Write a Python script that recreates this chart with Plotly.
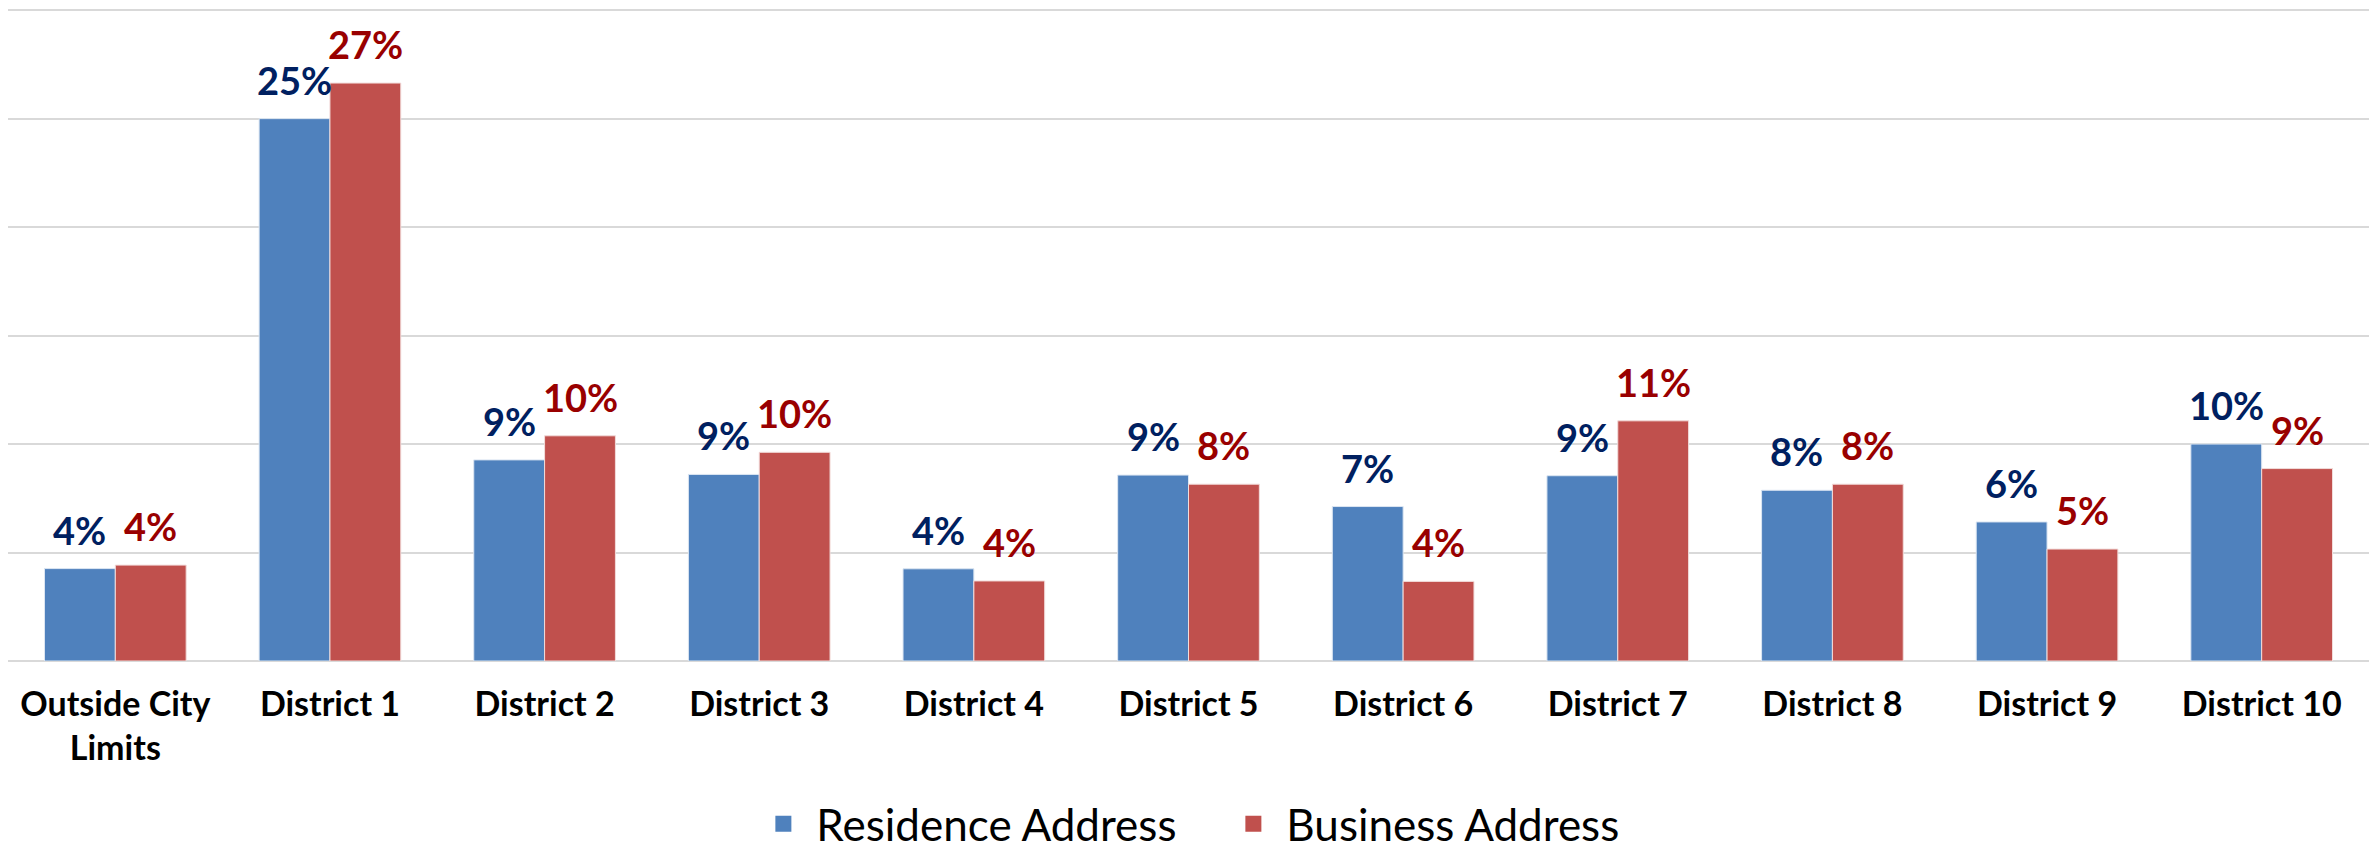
import plotly.graph_objects as go

categories = ["Outside City<br>Limits", "District 1", "District 2", "District 3", "District 4",
              "District 5", "District 6", "District 7", "District 8", "District 9", "District 10"]
residence = [4.26, 25.0, 9.27, 8.6, 4.25, 8.57, 7.12, 8.54, 7.87, 6.41, 10.0]
business = [4.42, 26.64, 10.38, 9.62, 3.69, 8.15, 3.67, 11.07, 8.15, 5.16, 8.87]
series_names = ["Residence Address", "Business Address"]

BLUE = "#4F81BD"
RED = "#C0504D"
BLUE_TXT = "#002060"
RED_TXT = "#990000"
FONT = "Lato"

fig = go.Figure()
fig.add_trace(go.Bar(name=series_names[0], x=categories, y=residence, showlegend=False,
                     marker=dict(color=BLUE, line=dict(color="#dce6f2", width=1))))
fig.add_trace(go.Bar(name=series_names[1], x=categories, y=business, showlegend=False,
                     marker=dict(color=RED, line=dict(color="#f2dcdb", width=1))))

# legend entries with bigger square swatches
for name, col in zip(series_names, (BLUE, RED)):
    fig.add_trace(go.Scatter(x=[None], y=[None], mode="markers", name=name,
                             marker=dict(symbol="square", size=22, color=col)))

# value labels sitting a bit above each bar
half = (1 - 0.34) / 4
annotations = []
for i in range(len(categories)):
    for vals, off, col in ((residence, -half, BLUE_TXT), (business, half, RED_TXT)):
        annotations.append(dict(
            x=i + off, y=vals[i], xref="x", yref="y",
            text=f"<b>{round(vals[i]):.0f}%</b>", showarrow=False,
            yanchor="bottom", xanchor="center", yshift=14,
            font=dict(family=FONT, size=38, color=col),
        ))

# page body adds an 8px margin, so the figure is sized to fit inside the window
fig.update_layout(
    width=2371, height=841,
    margin=dict(l=0, r=10, t=0, b=188, autoexpand=False),
    plot_bgcolor="white", paper_bgcolor="white",
    barmode="group", bargap=0.34, bargroupgap=0,
    font=dict(family=FONT, color="black"),
    annotations=annotations,
    legend=dict(orientation="h", x=0.5135, xanchor="center", y=-0.25, yanchor="middle",
                font=dict(family=FONT, size=44, color="black"),
                itemwidth=56, entrywidth=399, entrywidthmode="pixels", traceorder="normal"),
)
fig.update_xaxes(
    tickfont=dict(family=FONT, size=34, color="black", weight="bold"),
    ticks="outside", ticklen=13, tickcolor="rgba(0,0,0,0)",
    showline=False, showgrid=False, automargin=False,
)
fig.update_yaxes(
    range=[0, 30.1], tickvals=[0, 5, 10, 15, 20, 25, 30], showticklabels=False,
    showgrid=True, gridcolor="#d9d9d9", gridwidth=2, automargin=False,
    zeroline=True, zerolinecolor="#d9d9d9", zerolinewidth=2,
)

fig.write_html("out.html")
